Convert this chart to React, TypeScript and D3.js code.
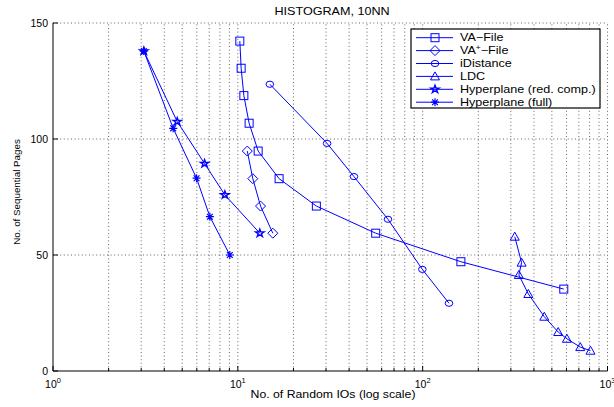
import * as d3 from 'd3';
import React from 'react';

const title = 'HISTOGRAM, 10NN';
const xLabel = 'No. of Random IOs (log scale)';
const yLabel = 'No. of Sequential Pages';

const seriesNames = ['VA-File', 'VA+-File', 'iDistance', 'LDC', 'Hyperplane (red. comp.)', 'Hyperplane (full)'];
const seriesMarkers = ['square', 'diamond', 'circle', 'triangle', 'star', 'asterisk'];

const vaFileX = [10.25, 10.42, 10.78, 11.51, 12.88, 16.72, 26.6, 55.7, 161, 580];
const vaFileY = [142.2, 130.5, 118.7, 106.8, 94.8, 82.9, 71.1, 59.4, 47.1, 35.3];
const vaPlusX = [11.25, 12.05, 13.27, 15.46];
const vaPlusY = [94.8, 82.9, 71.1, 59.4];
const iDistX = [14.9, 30.4, 42.5, 64.9, 99.6, 138.8];
const iDistY = [123.6, 98.1, 83.8, 65.4, 43.8, 29.2];
const ldcX = [315, 343, 331.5, 373, 455, 541, 603, 712, 809];
const ldcY = [57.9, 46.7, 41.4, 33.2, 23.4, 16.8, 13.9, 10.3, 8.75];
const hypRedX = [3.1, 4.7, 6.61, 8.51, 13.15];
const hypRedY = [137.9, 107.5, 89.4, 75.9, 59.4];
const hypFullX = [3.1, 4.47, 5.98, 7.06, 9.05];
const hypFullY = [137.9, 104.6, 83.1, 66.5, 50.0];

const yTicks = [0, 50, 100, 150];
const xDecades = [0, 1, 2, 3];

const seriesX = [vaFileX, vaPlusX, iDistX, ldcX, hypRedX, hypFullX];
const seriesY = [vaFileY, vaPlusY, iDistY, ldcY, hypRedY, hypFullY];

const W = 614;
const H = 407;
const BLUE = '#0000ff';
const FONT = '"Liberation Sans", Arial, Helvetica, sans-serif';
// the original picture is a bit stretched sideways, text included
const SX = 1.2;

function Marker({ kind, x, y }: { kind: string; x: number; y: number }) {
  const p = { fill: 'none', stroke: BLUE, strokeWidth: 1 };
  if (kind === 'square') return <rect x={x - 4} y={y - 4} width={8} height={8} {...p} />;
  if (kind === 'diamond')
    return <path d={`M${x},${y - 5}L${x + 5},${y}L${x},${y + 5}L${x - 5},${y}Z`} {...p} />;
  if (kind === 'circle') return <ellipse cx={x} cy={y} rx={3.8} ry={3.1} {...p} />;
  if (kind === 'triangle')
    return <path d={`M${x},${y - 4.5}L${x + 4.5},${y + 3.5}L${x - 4.5},${y + 3.5}Z`} {...p} />;
  if (kind === 'star') {
    const s = d3.symbol().type(d3.symbolStar).size(18)();
    return <path d={s || ''} transform={`translate(${x},${y}) scale(1.1,1)`} {...p} strokeWidth={1.3} />;
  }
  const r = 4;
  const d = r * 0.72;
  return (
    <path
      d={`M${x - r},${y}L${x + r},${y}M${x},${y - r}L${x},${y + r}M${x - d},${y - d}L${x + d},${y + d}M${x - d},${y + d}L${x + d},${y - d}`}
      {...p}
      strokeWidth={1.2}
    />
  );
}

export default function App() {
  const x = d3.scaleLog().domain([1, 1000]).range([53, 607.5]);
  const y = d3.scaleLinear().domain([0, 150]).range([371, 23]);

  const minor: number[] = [];
  xDecades.slice(0, 3).forEach((e) => {
    for (let k = 2; k <= 9; k++) minor.push(k * Math.pow(10, e));
  });
  const majors = xDecades.map((e) => Math.pow(10, e));

  const line = d3
    .line<[number, number]>()
    .x((d) => x(d[0]))
    .y((d) => y(d[1]));

  const grid = { stroke: '#222', strokeWidth: 0.7, strokeDasharray: '1 2.6' };

  const legX = 411;
  const legY = 29;
  const legRow = 12.9;

  return (
    <svg
      width={W}
      height={H}
      style={{ position: 'absolute', left: 0, top: 0, background: '#fff' }}
      fontFamily={FONT}
    >
      <rect width={W} height={H} fill="#fff" />
      {/* grid */}
      {[...minor, ...majors.slice(1)].map((v, i) => (
        <line key={'gx' + i} x1={x(v)} x2={x(v)} y1={y(0)} y2={y(150)} {...grid} />
      ))}
      {yTicks.slice(1).map((v) => (
        <line key={'gy' + v} x1={x(1)} x2={x(1000)} y1={y(v)} y2={y(v)} {...grid} />
      ))}
      {/* axes */}
      <line x1={x(1)} x2={x(1)} y1={y(0)} y2={y(150)} stroke="#000" strokeWidth={1} />
      <line x1={x(1)} x2={x(1000)} y1={y(0)} y2={y(0)} stroke="#000" strokeWidth={1} />
      {yTicks.map((v) => (
        <g key={'ty' + v}>
          <line x1={x(1)} x2={x(1) + 5} y1={y(v)} y2={y(v)} stroke="#000" />
          <text x={x(1) - 5} y={y(v)} dy="0.35em" textAnchor="end" fontSize={10.5}>
            {v}
          </text>
        </g>
      ))}
      {minor.map((v, i) => (
        <line key={'tm' + i} x1={x(v)} x2={x(v)} y1={y(0)} y2={y(0) - 3} stroke="#000" />
      ))}
      {majors.map((v, i) => (
        <g key={'tx' + i}>
          <line x1={x(v)} x2={x(v)} y1={y(0)} y2={y(0) - 5} stroke="#000" />
          <text x={x(v)} y={y(0) + 17} textAnchor="middle" fontSize={10.5}>
            10
            <tspan dy={-5} fontSize={7.5}>
              {xDecades[i]}
            </tspan>
          </text>
        </g>
      ))}
      {/* labels */}
      <text transform={`translate(332,15) scale(${SX},1)`} textAnchor="middle" fontSize={10.5}>
        {title}
      </text>
      <text transform={`translate(333,398) scale(1.17,1)`} textAnchor="middle" fontSize={10.5}>
        {xLabel}
      </text>
      <text transform={`translate(20,192) rotate(-90)`} textAnchor="middle" fontSize={9.8}>
        {yLabel}
      </text>
      {/* series */}
      {seriesX.map((xs, si) => {
        const pts = xs.map((v, j) => [v, seriesY[si][j]] as [number, number]);
        return (
          <g key={'s' + si}>
            <path d={line(pts) || ''} fill="none" stroke={BLUE} strokeWidth={1} />
            {pts.map((d, j) => (
              <Marker key={j} kind={seriesMarkers[si]} x={x(d[0])} y={y(d[1])} />
            ))}
          </g>
        );
      })}
      {/* legend */}
      <rect x={legX} y={legY} width={189} height={79} fill="#fff" stroke="#000" strokeWidth={1.2} />
      {seriesNames.map((name, i) => {
        const ry = legY + 8.7 + i * legRow;
        return (
          <g key={'l' + i}>
            <line x1={legX + 5} x2={legX + 42} y1={ry} y2={ry} stroke={BLUE} strokeWidth={1} />
            <Marker kind={seriesMarkers[i]} x={legX + 24} y={ry} />
            <text transform={`translate(${legX + 49},${ry}) scale(${SX},1)`} dy="0.35em" fontSize={10.5}>
              {name === 'VA+-File' ? (
                <>
                  VA
                  <tspan dy={-4} fontSize={7}>
                    +
                  </tspan>
                  <tspan dy={4}>−File</tspan>
                </>
              ) : (
                name.replace('VA-', 'VA−')
              )}
            </text>
          </g>
        );
      })}
    </svg>
  );
}
